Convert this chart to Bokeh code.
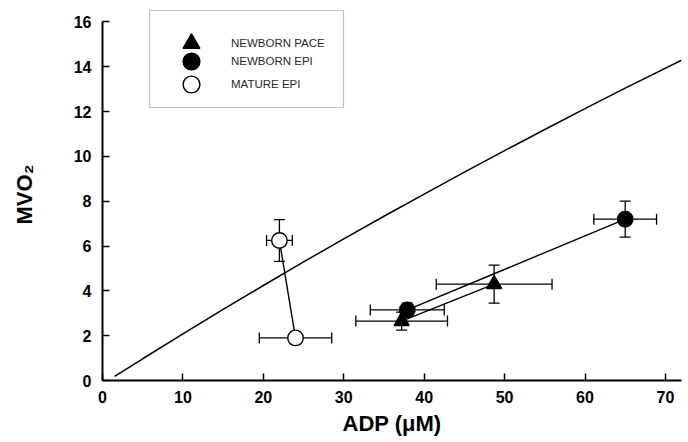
from bokeh.plotting import figure
from bokeh.models import (ColumnDataSource, Whisker, TeeHead, Legend, LegendItem,
                          Range1d, BoxAnnotation)
from bokeh.embed import file_html
from bokeh.resources import INLINE

# ---- data ----
curve_x = [1.5, 5, 10, 15, 20, 25, 30, 35, 40, 45, 50, 55, 60, 65, 72]
curve_y = [0.18, 0.97, 2.08, 3.17, 4.24, 5.29, 6.32, 7.33, 8.32, 9.30, 10.26, 11.20, 12.13, 13.05, 14.29]

pace_x = [37.2, 48.7]
pace_y = [2.65, 4.3]
pace_xerr = [5.7, 7.2]
pace_yerr = [0.4, 0.85]

nepi_x = [37.9, 65.0]
nepi_y = [3.15, 7.2]
nepi_xerr = [4.6, 3.9]
nepi_yerr = [0.3, 0.8]

mepi_x = [22.0, 24.0]
mepi_y = [6.25, 1.9]
mepi_xerr = [1.6, 4.5]
mepi_yerr = [0.93, 0.26]

x_ticks = [0, 10, 20, 30, 40, 50, 60, 70]
y_ticks = [0, 2, 4, 6, 8, 10, 12, 14, 16]

legend_labels = ["NEWBORN PACE", "NEWBORN EPI", "MATURE EPI"]

FONT = "Liberation Sans"

p = figure(width=688, height=442, output_backend="svg", toolbar_location=None,
           x_range=Range1d(0, 72), y_range=Range1d(0, 16.6),
           min_border_left=102, min_border_right=7, min_border_top=8, min_border_bottom=62)
p.outline_line_color = None
p.xgrid.visible = False
p.ygrid.visible = False

for ax in (p.xaxis[0], p.yaxis[0]):
    ax.axis_line_width = 2
    ax.axis_line_color = "black"
    ax.major_tick_in = 7
    ax.major_tick_out = 0
    ax.minor_tick_in = 4
    ax.minor_tick_out = 0
    ax.major_tick_line_width = 1.5
    ax.minor_tick_line_width = 1.2
    ax.major_label_text_font = FONT
    ax.major_label_text_font_style = "bold"
    ax.major_label_text_font_size = "16px"
    ax.major_label_text_color = "black"
    ax.axis_label_text_font = FONT
    ax.axis_label_text_font_style = "bold"
    ax.axis_label_text_font_size = "22px"
    ax.axis_label_text_color = "black"

p.xaxis[0].ticker = x_ticks
p.yaxis[0].ticker = y_ticks
p.xaxis[0].ticker.num_minor_ticks = 2
p.yaxis[0].ticker.num_minor_ticks = 2
p.xaxis[0].bounds = (0, 72)
p.yaxis[0].bounds = (0, 16)
p.xaxis[0].major_label_standoff = 10
p.yaxis[0].major_label_standoff = 11
p.xaxis[0].axis_label = "ADP (\u03bcM)"
p.yaxis[0].axis_label = "MVO\u2082"
p.xaxis[0].axis_label_standoff = 5
p.yaxis[0].axis_label_standoff = 34

# theoretical curve
p.line(curve_x, curve_y, line_color="black", line_width=1.5)

def series(xs, ys, xerr, yerr, marker, fill, size):
    src = ColumnDataSource(dict(
        x=xs, y=ys,
        xl=[a - e for a, e in zip(xs, xerr)], xu=[a + e for a, e in zip(xs, xerr)],
        yl=[a - e for a, e in zip(ys, yerr)], yu=[a + e for a, e in zip(ys, yerr)],
    ))
    p.line("x", "y", source=src, line_color="black", line_width=1.4)
    r = p.scatter("x", "y", source=src, marker=marker, size=size,
                  fill_color=fill, line_color="black", line_width=1.4)
    for dim, lo, hi, base in (("width", "xl", "xu", "y"), ("height", "yl", "yu", "x")):
        w = Whisker(source=src, base=base, lower=lo, upper=hi, dimension=dim,
                    line_color="black", line_width=1.3,
                    upper_head=TeeHead(size=11, line_color="black", line_width=1.3),
                    lower_head=TeeHead(size=11, line_color="black", line_width=1.3))
        p.add_layout(w)
    return r

r_pace = series(pace_x, pace_y, pace_xerr, pace_yerr, "triangle", "black", 15)
r_nepi = series(nepi_x, nepi_y, nepi_xerr, nepi_yerr, "circle", "black", 15.5)
r_mepi = series(mepi_x, mepi_y, mepi_xerr, mepi_yerr, "circle", "white", 15.5)

# legend frame (screen pixels, measured from the frame's left/bottom)
box = BoxAnnotation(left=47, right=241, top=370, bottom=273,
                    left_units="screen", right_units="screen",
                    top_units="screen", bottom_units="screen",
                    fill_color="white", fill_alpha=1.0,
                    line_color="#333333", line_width=1.2)
p.add_layout(box)

# one legend per row so the glyphs can be large while rows stay close
row_locs = [(68, 316), (68, 298), (68, 275)]
for lab, rend, loc in zip(legend_labels, [r_pace, r_nepi, r_mepi], row_locs):
    lg = Legend(items=[LegendItem(label=lab, renderers=[rend])], location=loc,
                glyph_width=42, glyph_height=42, padding=0, margin=0,
                label_standoff=19, label_text_font=FONT,
                label_text_font_size="11.5px", label_text_color="#2a2a2a",
                border_line_color=None, background_fill_alpha=0.0)
    p.add_layout(lg)

open("out.html", "w").write(file_html(p, INLINE))
